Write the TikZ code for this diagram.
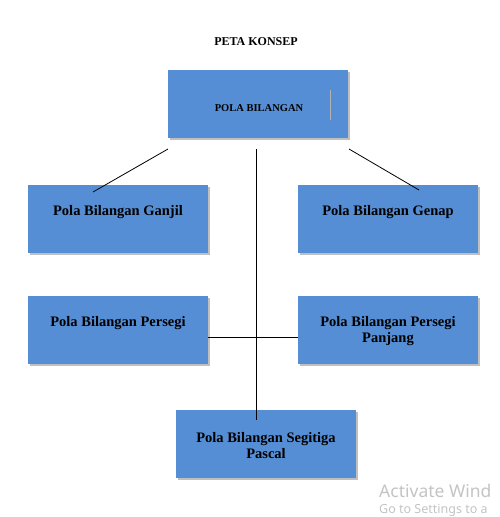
\documentclass[tikz,border=0pt]{standalone}
\usepackage{fontspec}
\setmainfont{Liberation Serif}
\newfontfamily\wmfont{Noto Sans}
\usetikzlibrary{shadows}
\definecolor{boxblue}{HTML}{558ED5}
\definecolor{wmgray}{HTML}{C4C4C4}
\begin{document}
\begin{tikzpicture}[x=1pt,y=-1pt,
  box/.style={draw=none,fill=boxblue,minimum width=180pt,minimum height=68pt,inner sep=0pt,
    drop shadow={shadow xshift=2pt,shadow yshift=-2pt,fill=black!25,opacity=1}},
  lbl/.style={font=\bfseries\fontsize{14.5}{16.5}\selectfont,align=center,inner sep=0pt},
  conn/.style={draw=black,line width=0.8pt}]
\clip (0,0) rectangle (499,517);
\fill[white] (0,0) rectangle (499,517);
\node[font=\bfseries\fontsize{12}{14}\selectfont,inner sep=0pt] (title) at (256,42) {PETA KONSEP};
\node[box] (top) at (258,104) {};
\draw[black!30,line width=0.6pt] (330,90) -- (330,120);
\node[font=\bfseries\fontsize{10.5}{12}\selectfont,inner sep=0pt] (toptxt) at (259,108) {POLA BILANGAN};
\node[box] (ganjil) at (118,218.5) {};
\node[lbl] (ganjiltxt) at (118,212) {Pola Bilangan Ganjil};
\node[box] (genap) at (388,218.5) {};
\node[lbl] (genaptxt) at (388,212) {Pola Bilangan Genap};
\node[box] (persegi) at (118,330) {};
\node[lbl] (persegitxt) at (118,323) {Pola Bilangan Persegi};
\node[box] (panjang) at (388,330) {};
\node[lbl] (panjangtxt) at (388,331) {Pola Bilangan Persegi\\Panjang};
\node[box] (pascal) at (266,444) {};
\node[lbl] (pascaltxt) at (266,445.5) {Pola Bilangan Segitiga\\Pascal};
\coordinate (l1) at (168,149);
\coordinate (l2) at (93,192);
\coordinate (r1) at (349,149);
\coordinate (r2) at (419,190);
\coordinate (v1) at (256,149);
\coordinate (v2) at (256,420);
\draw[conn] (l1) -- (l2);
\draw[conn] (r1) -- (r2);
\draw[conn] (v1) -- (v2);
\draw[conn] (persegi.east |- 0,337) -- (panjang.west |- 0,337);
\node[anchor=base west,inner sep=0pt,text=wmgray,font=\wmfont\fontsize{17.5}{19}\selectfont] (wm1) at (379,497) {Activate Wind};
\node[anchor=base west,inner sep=0pt,text=wmgray,font=\wmfont\fontsize{12.5}{14}\selectfont] (wm2) at (379,513) {Go to Settings to a};
\end{tikzpicture}
\end{document}
